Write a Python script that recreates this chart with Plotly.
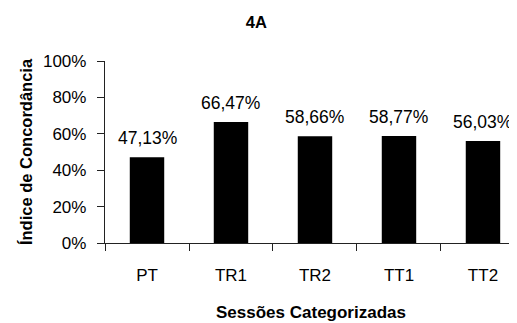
import plotly.graph_objects as go

categories = ["PT", "TR1", "TR2", "TT1", "TT2"]
values = [47.13, 66.47, 58.66, 58.77, 56.03]
y_ticks = [0, 0.2, 0.4, 0.6, 0.8, 1.0]

labels = [f"{v:.2f}%".replace(".", ",") for v in values]
yvals = [v / 100 for v in values]

FONT = "Liberation Sans, Arial, sans-serif"

fig = go.Figure()
fig.add_trace(go.Bar(
    x=categories, y=yvals, width=0.41,
    marker=dict(color="black", line=dict(width=0)),
    hoverinfo="skip",
))

for c, y, t in zip(categories, yvals, labels):
    fig.add_annotation(x=c, y=y, text=t, showarrow=False, yanchor="bottom",
                       yshift=7, font=dict(family=FONT, size=17.5, color="black"))

# page body has an 8px margin, so the figure is sized 8px smaller
fig.update_layout(
    width=509, height=315,
    margin=dict(l=97, r=0, t=53, b=80),
    paper_bgcolor="white", plot_bgcolor="white",
    showlegend=False,
    title=dict(text="<b>4A</b>", x=0.488, xanchor="center", y=0.956, yanchor="middle",
               font=dict(family=FONT, size=16.5, color="black")),
    font=dict(family=FONT, color="black"),
)
fig.update_xaxes(
    type="category", range=[-0.5, 4.405], automargin=False,
    showline=True, linecolor="#222", linewidth=1.3,
    ticks="outside", tickson="boundaries", ticklen=7, tickcolor="#222",
    ticklabelstandoff=16,
    tickfont=dict(size=17, family=FONT), showgrid=False,
    title=dict(text="<b>Sessões Categorizadas</b>", standoff=22,
               font=dict(size=17, family=FONT)),
)
fig.update_yaxes(
    range=[0, 1], tickvals=y_ticks, tickformat=".0%", automargin=False,
    showline=True, linecolor="#222", linewidth=1.3,
    ticks="outside", ticklen=7, tickcolor="#222",
    ticklabelstandoff=7,
    tickfont=dict(size=17, family=FONT), showgrid=False, zeroline=False,
    title=dict(text="<b>Índice de Concordância</b>", standoff=6,
               font=dict(size=16.5, family=FONT)),
)

fig.write_html("out.html")
